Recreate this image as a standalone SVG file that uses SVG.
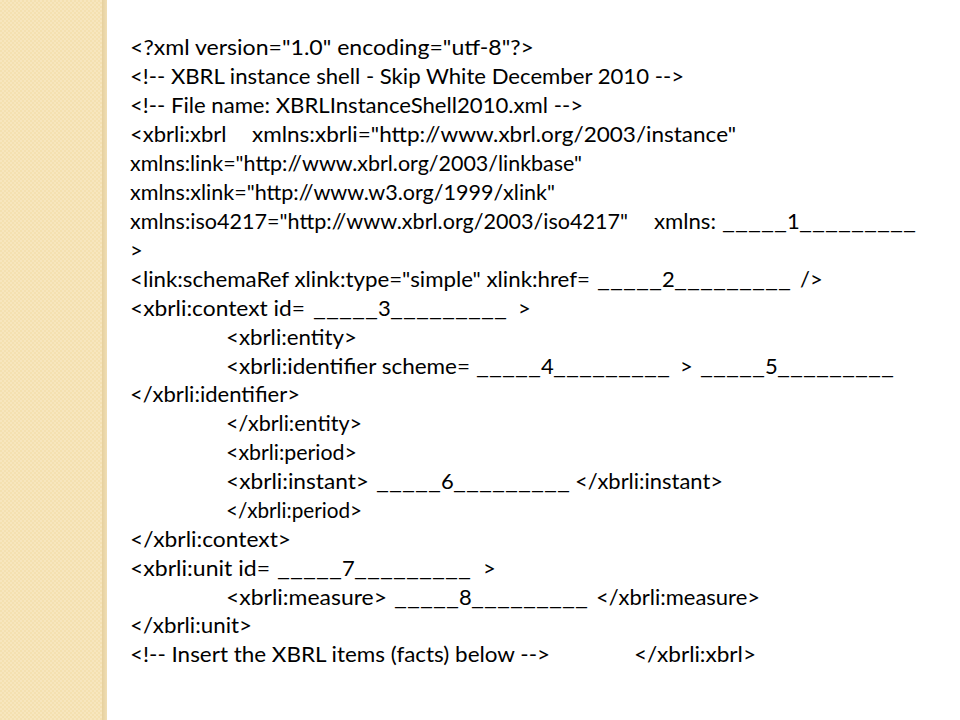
<svg xmlns="http://www.w3.org/2000/svg" width="960" height="720" viewBox="0 0 960 720">
<defs>
<pattern id="chk" width="4" height="4" patternUnits="userSpaceOnUse">
<rect width="4" height="4" fill="#F4E0B0"/>
<rect width="2" height="2" fill="#F7E6BE"/>
<rect x="2" y="2" width="2" height="2" fill="#F7E6BE"/>
</pattern>
<linearGradient id="edge" x1="0" y1="0" x2="1" y2="0">
<stop offset="0" stop-color="#E6D09E"/>
<stop offset="1" stop-color="#F0DEB4"/>
</linearGradient>
<style>
text{font-family:Lato,"Open Sans","Liberation Sans",sans-serif;font-size:22px;fill:#000;white-space:pre}
</style>
</defs>
<rect width="960" height="720" fill="#FFFFFF"/>
<rect x="0" y="0" width="103" height="720" fill="url(#chk)"/>
<rect x="102" y="0" width="5" height="720" fill="url(#edge)"/>
<g id="code">
<text x="130" y="55" textLength="404" lengthAdjust="spacingAndGlyphs">&lt;?xml version="1.0" encoding="utf-8"?&gt;</text>
<text x="130" y="84" textLength="554" lengthAdjust="spacingAndGlyphs">&lt;!-- XBRL instance shell - Skip White December 2010 --&gt;</text>
<text x="130" y="113" textLength="453" lengthAdjust="spacingAndGlyphs">&lt;!-- File name: XBRLInstanceShell2010.xml --&gt;</text>
<text x="130" y="142">&lt;xbrli:xbrl</text>
<text x="252" y="142" textLength="484" lengthAdjust="spacingAndGlyphs">xmlns:xbrli="http://www.xbrl.org/2003/instance"</text>
<text x="130" y="171" textLength="452" lengthAdjust="spacingAndGlyphs">xmlns:link="http://www.xbrl.org/2003/linkbase"</text>
<text x="130" y="200" textLength="425" lengthAdjust="spacingAndGlyphs">xmlns:xlink="http://www.w3.org/1999/xlink"</text>
<text x="130" y="229" textLength="498" lengthAdjust="spacingAndGlyphs">xmlns:iso4217="http://www.xbrl.org/2003/iso4217"</text>
<text x="654" y="229" textLength="62" lengthAdjust="spacingAndGlyphs">xmlns:</text>
<text x="722" y="229" textLength="65" lengthAdjust="spacingAndGlyphs">_____</text>
<text x="787" y="229">1</text>
<text x="799" y="229" textLength="117" lengthAdjust="spacingAndGlyphs">_________</text>
<text x="130" y="258">&gt;</text>
<text x="130" y="287" textLength="460" lengthAdjust="spacingAndGlyphs">&lt;link:schemaRef xlink:type="simple" xlink:href=</text>
<text x="597" y="287" textLength="65" lengthAdjust="spacingAndGlyphs">_____</text>
<text x="662" y="287">2</text>
<text x="674" y="287" textLength="117" lengthAdjust="spacingAndGlyphs">_________</text>
<text x="800" y="287">/&gt;</text>
<text x="130" y="316" textLength="175" lengthAdjust="spacingAndGlyphs">&lt;xbrli:context id=</text>
<text x="313" y="316" textLength="65" lengthAdjust="spacingAndGlyphs">_____</text>
<text x="378" y="316">3</text>
<text x="390" y="316" textLength="117" lengthAdjust="spacingAndGlyphs">_________</text>
<text x="518" y="316">&gt;</text>
<text x="226" y="345" textLength="131" lengthAdjust="spacingAndGlyphs">&lt;xbrli:entity&gt;</text>
<text x="226" y="374" textLength="244" lengthAdjust="spacingAndGlyphs">&lt;xbrli:identifier scheme=</text>
<text x="476" y="374" textLength="65" lengthAdjust="spacingAndGlyphs">_____</text>
<text x="541" y="374">4</text>
<text x="553" y="374" textLength="117" lengthAdjust="spacingAndGlyphs">_________</text>
<text x="680" y="374">&gt;</text>
<text x="700" y="374" textLength="65" lengthAdjust="spacingAndGlyphs">_____</text>
<text x="765" y="374">5</text>
<text x="777" y="374" textLength="117" lengthAdjust="spacingAndGlyphs">_________</text>
<text x="130" y="402" textLength="170" lengthAdjust="spacingAndGlyphs">&lt;/xbrli:identifier&gt;</text>
<text x="226" y="431" textLength="136" lengthAdjust="spacingAndGlyphs">&lt;/xbrli:entity&gt;</text>
<text x="226" y="460" textLength="131" lengthAdjust="spacingAndGlyphs">&lt;xbrli:period&gt;</text>
<text x="226" y="489" textLength="143" lengthAdjust="spacingAndGlyphs">&lt;xbrli:instant&gt;</text>
<text x="376" y="489" textLength="65" lengthAdjust="spacingAndGlyphs">_____</text>
<text x="441" y="489">6</text>
<text x="453" y="489" textLength="117" lengthAdjust="spacingAndGlyphs">_________</text>
<text x="575" y="489" textLength="148" lengthAdjust="spacingAndGlyphs">&lt;/xbrli:instant&gt;</text>
<text x="226" y="518" textLength="136" lengthAdjust="spacingAndGlyphs">&lt;/xbrli:period&gt;</text>
<text x="130" y="547" textLength="161" lengthAdjust="spacingAndGlyphs">&lt;/xbrli:context&gt;</text>
<text x="130" y="576" textLength="140" lengthAdjust="spacingAndGlyphs">&lt;xbrli:unit id=</text>
<text x="277" y="576" textLength="65" lengthAdjust="spacingAndGlyphs">_____</text>
<text x="342" y="576">7</text>
<text x="354" y="576" textLength="117" lengthAdjust="spacingAndGlyphs">_________</text>
<text x="483" y="576">&gt;</text>
<text x="226" y="605" textLength="161" lengthAdjust="spacingAndGlyphs">&lt;xbrli:measure&gt;</text>
<text x="394" y="605" textLength="65" lengthAdjust="spacingAndGlyphs">_____</text>
<text x="459" y="605">8</text>
<text x="471" y="605" textLength="117" lengthAdjust="spacingAndGlyphs">_________</text>
<text x="596" y="605" textLength="164" lengthAdjust="spacingAndGlyphs">&lt;/xbrli:measure&gt;</text>
<text x="130" y="633" textLength="122" lengthAdjust="spacingAndGlyphs">&lt;/xbrli:unit&gt;</text>
<text x="130" y="662" textLength="420" lengthAdjust="spacingAndGlyphs">&lt;!-- Insert the XBRL items (facts) below --&gt;</text>
<text x="634" y="662" textLength="122" lengthAdjust="spacingAndGlyphs">&lt;/xbrli:xbrl&gt;</text>
</g>
</svg>
